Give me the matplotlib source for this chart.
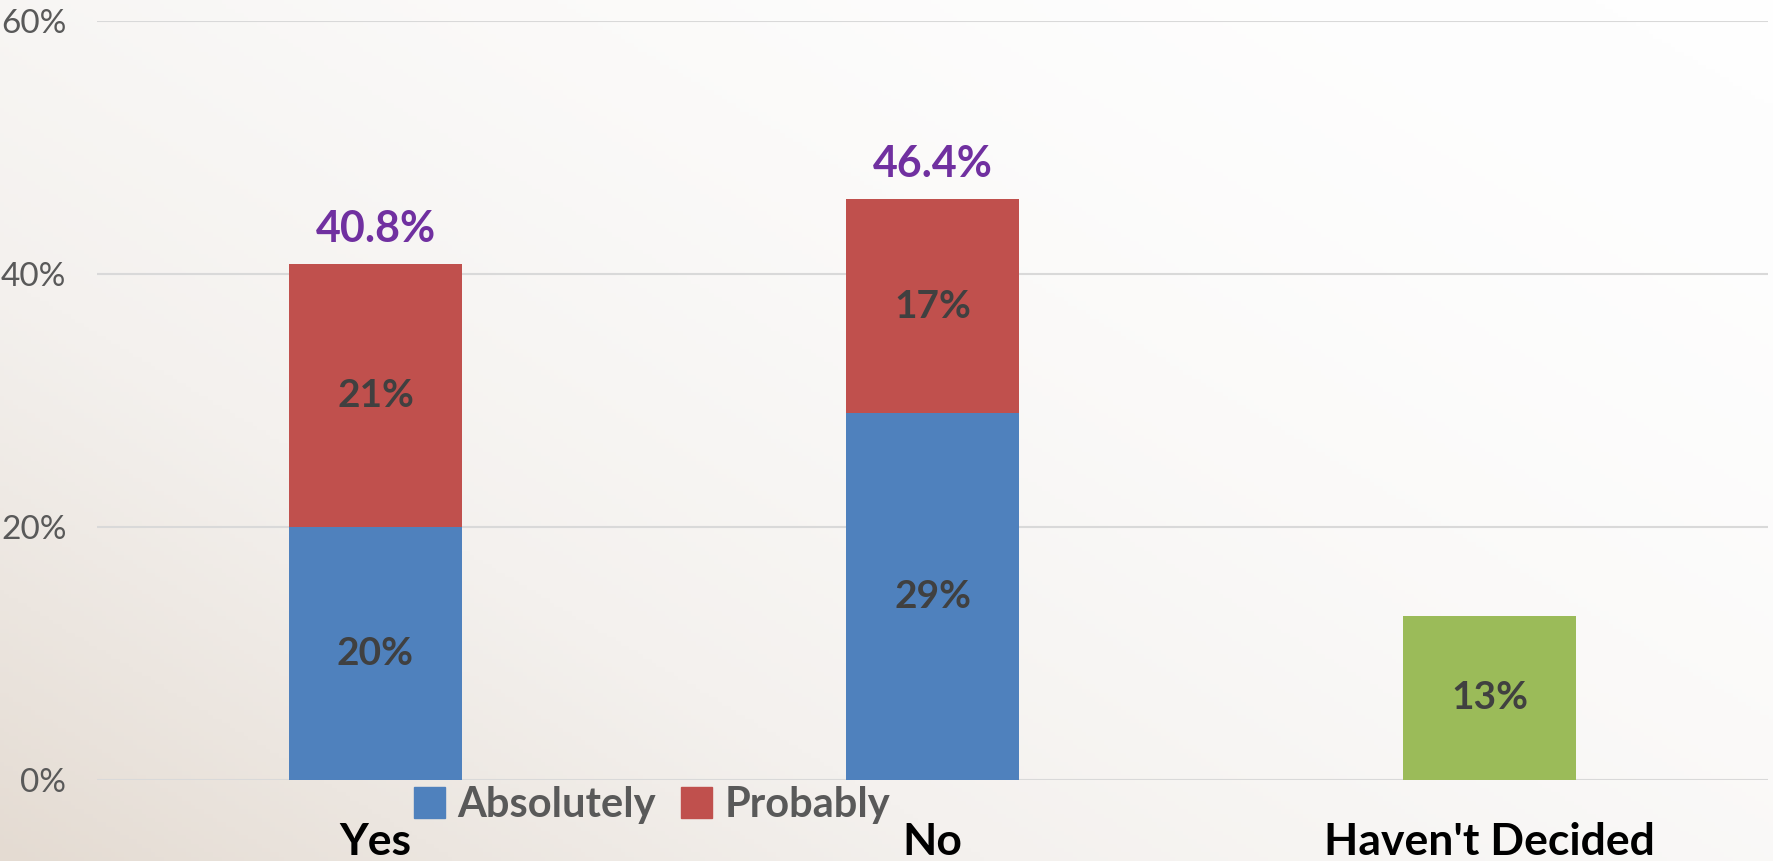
import numpy as np
import matplotlib.pyplot as plt
from matplotlib.colors import LinearSegmentedColormap
from matplotlib.patches import Patch

categories = ["Yes", "No", "Haven't Decided"]
absolutely = [20, 29, 0]
probably = [20.8, 16.9, 0]
undecided = [0, 0, 13]
seg_labels_abs = ["20%", "29%", ""]
seg_labels_prob = ["21%", "17%", ""]
seg_labels_und = ["", "", "13%"]
totals = ["40.8%", "46.4%", ""]
yticks = [0, 20, 40, 60]

W, H = 1773, 861
fig = plt.figure(figsize=(W / 100, H / 100), dpi=100)

# background: diagonal gradient, beige lower-left to white upper-right
bg = fig.add_axes([0, 0, 1, 1])
xx, yy = np.meshgrid(np.linspace(0, 1, 400), np.linspace(0, 1, 200))
t = np.clip(1 - (xx * 0.55 + (1 - yy) * 0.45), 0, 1)
cmap = LinearSegmentedColormap.from_list("bg", ["#fefefe", "#f4f1ee", "#e4dbd2"])
bg.imshow(t ** 1.9, cmap=cmap, aspect="auto", extent=[0, 1, 0, 1], origin="upper")
bg.axis("off")

ax = fig.add_axes([97 / W, (H - 780) / H, (1768 - 97) / W, (780 - 21) / H])
ax.patch.set_alpha(0)

x = np.arange(len(categories))
width = 0.312
b1 = ax.bar(x, absolutely, width, color="#4f81bd", zorder=3)
b2 = ax.bar(x, probably, width, bottom=absolutely, color="#c0504d", zorder=3)
b3 = ax.bar(x, undecided, width, color="#9bbb59", zorder=3)

lab = dict(fontsize=28, fontweight="bold", color="#404040", family="Lato")
ax.bar_label(b1, labels=seg_labels_abs, label_type="center", **lab)
ax.bar_label(b2, labels=seg_labels_prob, label_type="center", **lab)
ax.bar_label(b3, labels=seg_labels_und, label_type="center", **lab)

tops = np.array(absolutely) + np.array(probably)
for xi, top, txt in zip(x, tops, totals):
    if txt:
        ax.annotate(txt, (xi, top), xytext=(0, 11), textcoords="offset points",
                    ha="center", va="bottom", fontsize=31, fontweight="bold",
                    color="#7030a0", family="Lato")

ax.set_xlim(-0.5, 2.5)
ax.set_ylim(0, 60)
ax.set_yticks(yticks)
ax.set_yticklabels([f"{v}%" for v in yticks], fontsize=24, color="#595959", family="Lato")
ax.tick_params(axis="y", length=0, pad=22)
ax.set_xticks(x)
ax.set_xticklabels(categories, fontsize=32, fontweight="bold", color="black", family="Lato")
ax.tick_params(axis="x", length=0, pad=30)
ax.grid(axis="y", color="#d9d9d9", linewidth=1.5, zorder=0)
for s in ax.spines.values():
    s.set_visible(False)

handles = [Patch(color="#4f81bd", label="Absolutely"), Patch(color="#c0504d", label="Probably")]
leg = fig.legend(handles=handles, loc="center", bbox_to_anchor=(652 / W, 1 - 805 / H),
                 ncol=2, frameon=False, handlelength=0.75, handleheight=0.75,
                 handletextpad=0.3, columnspacing=0.6,
                 prop={"family": "Lato", "weight": "bold", "size": 30})
for txt in leg.get_texts():
    txt.set_color("#595959")

fig.savefig("out.png", dpi=100)
